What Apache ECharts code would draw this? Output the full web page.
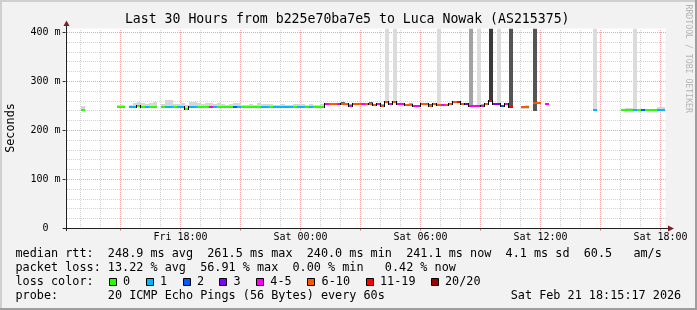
<!DOCTYPE html>
<html><head><meta charset="utf-8">
<script src="https://cdn.jsdelivr.net/npm/echarts@6/dist/echarts.min.js"></script>
<style>html,body{margin:0;padding:0;background:#f2f2f2}#c{width:697px;height:310px}</style>
</head><body><div id="c"></div>
<script>
// ---------------- DATA ----------------
// time in hours since Fri 00:00; graph spans Fri 12:15:17 .. Sat 18:15:17
const rangeStartHour = 12.2547;
const rangeEndHour = 42.2547;
const colStartHour = 12.2;   // first 12-minute consolidation column (Fri 12:12)
const colHours = 0.2;        // 12 minutes per column
const yMaxMs = 408;

const medianMs = [
  null,null,null,null,241,null,null,null,null,null,
  null,null,null,248,248,null,248,248,250,248,
  248,248,248,null,248,248,248,248,248,248,
  244,248,248,248,248,248,248,248,248,248,
  248,248,248,248,248,248,248,248,248,248,
  248,248,248,248,248,248,248,248,248,248,
  248,248,248,248,248,253,253,253,253,255,
  255,250,253,253,253,253,255,252,253,250,
  258,253,259,253,253,251,251,249,249,253,
  253,249,254,252,252,252,253,258,258,254,
  253,249,249,249,250,253,261,253,253,249,
  253,248,null,null,248,248,null,257,257,null,
  253,null,null,null,null,null,null,null,null,null,
  null,null,241,null,null,null,null,null,null,241,
  241,241,241,241,241,241,241,241,241,241,
  null
];
const lossCount = [
  null,null,null,null,0,null,null,null,null,null,
  null,null,null,0,0,null,1,1,0,0,
  1,0,0,null,0,1,1,0,1,1,
  0,1,1,0,0,0,4,1,0,0,
  0,0,2,1,0,0,0,0,0,1,
  1,0,1,1,1,1,1,0,1,1,
  0,1,0,0,0,4,8,8,4,8,
  8,4,8,8,4,8,8,8,4,8,
  8,4,8,4,4,8,8,4,4,8,
  8,8,8,8,4,8,8,8,15,8,
  3,4,4,4,4,8,15,3,3,2,
  4,15,null,null,8,8,null,8,8,null,
  4,null,null,null,null,null,null,null,null,null,
  null,null,1,null,null,null,null,null,null,0,
  0,0,1,0,2,0,0,0,1,1,
  null
];
const smokeHiMs = [
  null,null,null,null,249,null,null,null,null,null,
  null,null,null,252,252,null,252,256,258,256,
  254,256,258,null,254,262,262,254,254,256,
  252,258,258,256,255,256,257,254,256,254,
  252,254,257,257,252,252,254,252,256,254,
  253,254,252,252,254,252,252,253,255,253,
  252,254,252,252,253,256,256,255,255,258,
  257,253,255,255,256,257,258,255,256,253,
  null,257,null,255,256,254,256,252,252,256,
  255,253,256,null,255,255,256,261,261,256,
  255,null,252,null,253,256,null,255,null,252,
  256,null,null,null,250,252,null,null,259,null,
  null,null,null,null,null,null,null,null,null,null,
  null,null,null,null,null,null,null,null,null,244,
  246,246,null,244,243,244,244,244,247,247,
  null
];
const smokeLoMs = [
  null,null,null,null,null,null,null,null,null,null,
  null,null,null,null,null,null,null,null,null,null,
  null,null,null,null,null,null,null,null,null,null,
  null,null,null,null,null,null,null,null,null,null,
  null,null,null,null,null,null,null,null,null,null,
  null,null,null,null,null,null,null,null,null,null,
  null,null,null,null,null,null,null,null,null,null,
  null,null,null,null,null,null,null,null,null,null,
  null,null,null,null,null,null,null,null,null,null,
  null,null,null,null,null,null,null,null,null,null,
  null,null,null,null,null,null,null,null,null,null,
  null,null,null,null,243,243,null,240,null,null,
  null,null,null,null,null,null,null,null,null,null,
  null,null,null,null,null,null,null,null,null,null,
  null,null,null,null,null,null,null,null,null,null,
  null
];
// 0 light, 1 medium, 2 dark smoke around the median
const smokeTone = [
  0,0,0,0,0,0,0,0,0,0, 0,0,0,0,0,0,0,0,0,0,
  0,0,0,0,0,0,0,0,0,0, 0,0,0,0,0,0,0,0,0,0,
  0,0,0,0,0,0,0,0,0,0, 0,0,0,0,0,0,0,0,0,0,
  0,0,0,0,0,1,0,0,0,2, 2,1,0,0,0,1,2,1,0,1,
  0,2,0,0,1,0,1,0,0,2, 1,2,0,0,0,0,2,0,0,2,
  0,0,0,0,1,0,0,0,0,0, 0,0,0,0,0,0,0,0,0,0,
  0,0,0,0,0,0,0,0,0,0, 0,0,0,0,0,0,0,0,0,0,
  0,0,0,0,0,0,0,0,0,0, 0
];
// tall smoke reaching the top of the graph: 0 none, 1 light .. 4 darkest
const spikeTone = [
  0,0,0,0,0,0,0,0,0,0, 0,0,0,0,0,0,0,0,0,0,
  0,0,0,0,0,0,0,0,0,0, 0,0,0,0,0,0,0,0,0,0,
  0,0,0,0,0,0,0,0,0,0, 0,0,0,0,0,0,0,0,0,0,
  0,0,0,0,0,0,0,0,0,0, 0,0,0,0,0,0,0,0,0,0,
  1,0,1,0,0,0,0,0,0,0, 0,0,0,1,0,0,0,0,0,0,
  0,2,0,1,0,0,4,0,1,0, 0,3,0,0,0,0,0,3,0,0,
  0,0,0,0,0,0,0,0,0,0, 0,0,1,0,0,0,0,0,0,0,
  0,0,1,0,0,0,0,0,0,0, 0
];

const xTickHours = [18, 24, 30, 36, 42];
const xTickLabels = ['Fri 18:00', 'Sat 00:00', 'Sat 06:00', 'Sat 12:00', 'Sat 18:00'];
const yTickValues = [0, 100, 200, 300, 400];
const yTickLabels = ['0  ', '100 m', '200 m', '300 m', '400 m'];

const lossBinMax = [0, 1, 2, 3, 5, 10, 19, 20];
const lossBinLabels = ['0', '1', '2', '3', '4-5', '6-10', '11-19', '20/20'];
const lossBinColors = ['#26ff00', '#00b8ff', '#0059ff', '#7e00ff', '#ff00ea', '#ff5500', '#ff0000', '#a10000'];

const titleText = 'Last 30 Hours from b225e70ba7e5 to Luca Nowak (AS215375)';
const statLines = [
  'median rtt:  248.9 ms avg  261.5 ms max  240.0 ms min  241.1 ms now  4.1 ms sd  60.5   am/s',
  'packet loss: 13.22 % avg  56.91 % max  0.00 % min   0.42 % now',
  'loss color:',
  'probe:       20 ICMP Echo Pings (56 Bytes) every 60s'
];
const stampText = 'Sat Feb 21 18:15:17 2026';

// ---------------- STYLE ----------------
const MONO = '"DejaVu Sans Mono", "Liberation Mono", monospace';
const smokeColors = ['#d6d6d6', '#a8a8a8', '#666666'];
const spikeColors = [null, '#dcdcdc', '#a2a2a2', '#555555', '#3a3a3a'];
const gridMinor = '#d2d2d2';
const gridMajor = '#f2a2a2';
const arrowCol = '#801f1f';
const axisCol = '#1f1f1f';
const legendBoxX = [108.7, 145.7, 182.7, 219.3, 256, 307.3, 365.7, 430.7];
const lineMid = [254.2, 267.9, 281.9, 295.6];

function lossColor(n) {
  for (let i = 0; i < lossBinMax.length; i++) if (n <= lossBinMax[i]) return lossBinColors[i];
  return lossBinColors[lossBinColors.length - 1];
}

// ---------------- BUILD ----------------
const cols = [];
for (let j = 0; j < medianMs.length; j++) {
  const m = medianMs[j], sp = spikeTone[j] || 0;
  if (m == null && !sp) continue;
  cols.push([
    colStartHour + j * colHours,
    m == null ? -1 : m,
    lossCount[j] == null ? -1 : lossCount[j],
    smokeHiMs[j] == null ? -1 : smokeHiMs[j],
    smokeLoMs[j] == null ? -1 : smokeLoMs[j],
    smokeTone[j] || 0,
    sp,
    (j > 0 && medianMs[j - 1] != null) ? medianMs[j - 1] : -1
  ]);
}

// grid lines: [value, 0 = vertical (hours) / 1 = horizontal (ms), major?]
const gridItems = [];
for (let h = 13; h <= 42; h++) gridItems.push([h, 0, h % 3 === 0 ? 1 : 0]);
for (let v = 20; v <= 400; v += 20) gridItems.push([v, 1, v % 100 === 0 ? 1 : 0]);
const majorHours = [];
for (let h = 15; h <= 42; h += 3) majorHours.push(h);

function renderGrid(params, api) {
  const v = api.value(0), isY = api.value(1), major = api.value(2);
  const cs = params.coordSys;
  let shape;
  if (!isY) {
    const x = Math.floor(api.coord([v, 0])[0]) + 0.5;
    shape = { x1: x, y1: Math.round(cs.y + cs.height), x2: x, y2: Math.round(cs.y) };
  } else {
    const y = Math.floor(api.coord([rangeStartHour, v])[1]) + 0.5;
    shape = { x1: Math.round(cs.x) + 1, y1: y, x2: Math.round(cs.x + cs.width), y2: y };
  }
  return { type: 'line', shape: shape, style: { stroke: major ? gridMajor : gridMinor, lineWidth: 1, lineDash: [1, 1] } };
}

function renderSmoke(params, api) {
  const t = api.value(0), med = api.value(1), hi = api.value(3), lo = api.value(4), tone = api.value(5), sp = api.value(6);
  const xL = Math.round(api.coord([t, 0])[0]);
  const xR = Math.round(api.coord([t + colHours, 0])[0]);
  const base = lo >= 0 ? lo : med - 1.5;
  const yB = Math.round(api.coord([t, base])[1]);
  const kids = [];
  if (sp > 0) {
    const yT = api.coord([t, yMaxMs])[1];
    kids.push({ type: 'rect', shape: { x: xL, y: yT, width: xR - xL, height: yB - yT }, style: { fill: spikeColors[sp] } });
  }
  if (hi >= 0) {
    const yT = Math.round(api.coord([t, hi])[1]);
    kids.push({ type: 'rect', shape: { x: xL, y: yT, width: xR - xL, height: yB - yT }, style: { fill: smokeColors[tone] } });
  }
  return { type: 'group', children: kids };
}

function renderMedian(params, api) {
  const t = api.value(0), med = api.value(1), loss = api.value(2), prev = api.value(7);
  if (med < 0) return { type: 'group', children: [] };
  const xL = Math.round(api.coord([t, 0])[0]);
  const xR = Math.round(api.coord([t + colHours, 0])[0]);
  const y = Math.round(api.coord([t, med])[1]);
  const kids = [];
  if (prev >= 0 && prev !== med) {
    const yp = Math.round(api.coord([t, prev])[1]);
    kids.push({ type: 'rect', shape: { x: xL - 1, y: Math.min(y, yp) - 1, width: 1, height: Math.abs(y - yp) + 2 }, style: { fill: '#000' } });
  }
  kids.push({ type: 'rect', shape: { x: xL, y: y - 1, width: xR - xL, height: 2 }, style: { fill: lossColor(loss) } });
  return { type: 'group', children: kids };
}

const graphics = [
  // 3D frame
  { type: 'rect', shape: { x: 0, y: 0, width: 697, height: 2 }, style: { fill: '#cfcfcf' }, silent: true },
  { type: 'rect', shape: { x: 0, y: 0, width: 2, height: 310 }, style: { fill: '#cfcfcf' }, silent: true },
  { type: 'rect', shape: { x: 0, y: 308, width: 697, height: 2 }, style: { fill: '#9e9e9e' }, silent: true },
  { type: 'rect', shape: { x: 695, y: 0, width: 2, height: 310 }, style: { fill: '#9e9e9e' }, silent: true },
  // axes lines & arrows
  { type: 'line', shape: { x1: 66.5, y1: 231, x2: 66.5, y2: 24 }, style: { stroke: axisCol, lineWidth: 1 }, silent: true, z: 50 },
  { type: 'line', shape: { x1: 63, y1: 228.5, x2: 669, y2: 228.5 }, style: { stroke: axisCol, lineWidth: 1 }, silent: true, z: 50 },
  { type: 'polygon', shape: { points: [[63.5, 26], [69.5, 26], [66.5, 20.5]] }, style: { fill: arrowCol }, silent: true, z: 51 },
  { type: 'polygon', shape: { points: [[668, 225.5], [668, 231.5], [674, 228.5]] }, style: { fill: arrowCol }, silent: true, z: 51 },
  // title
  { type: 'text', x: 347.2, y: 19.4, style: { text: titleText, font: '13.2px ' + MONO, fill: '#000', align: 'center', verticalAlign: 'middle' }, silent: true },
  // y axis name
  { type: 'text', x: 10.5, y: 128, rotation: Math.PI / 2, style: { text: 'Seconds', font: '11.8px ' + MONO, fill: '#000', align: 'center', verticalAlign: 'middle' }, silent: true },
  // watermark
  { type: 'text', x: 687.8, y: 4.5, rotation: -Math.PI / 2, style: { text: 'RRDTOOL / TOBI OETIKER', font: '8.2px ' + MONO, fill: '#b4b4b4', align: 'left', verticalAlign: 'middle' }, silent: true },
  // stamp
  { type: 'text', x: 681.2, y: lineMid[3], style: { text: stampText, font: '11.8px ' + MONO, fill: '#000', align: 'right', verticalAlign: 'middle' }, silent: true }
];
statLines.forEach((s, i) => {
  graphics.push({ type: 'text', x: 15.5, y: lineMid[i], style: { text: s, font: '11.8px ' + MONO, fill: '#000', align: 'left', verticalAlign: 'middle' }, silent: true });
});
lossBinLabels.forEach((lab, i) => {
  const bx = Math.round(legendBoxX[i]) + 0.5;
  graphics.push({ type: 'rect', shape: { x: bx, y: 278.5, width: 7, height: 7 }, style: { fill: lossBinColors[i], stroke: '#000', lineWidth: 1 }, silent: true });
  graphics.push({ type: 'text', x: legendBoxX[i] + 14.3, y: lineMid[2], style: { text: lab, font: '11.8px ' + MONO, fill: '#000', align: 'left', verticalAlign: 'middle' }, silent: true });
});

const option = {
  backgroundColor: '#f2f2f2',
  animation: false,
  grid: { show: true, backgroundColor: '#ffffff', borderWidth: 0, left: 65.6, top: 28.5, width: 600, height: 200 },
  xAxis: {
    type: 'value', min: rangeStartHour, max: rangeEndHour,
    splitLine: { show: false }, axisLine: { show: false },
    axisTick: { show: true, customValues: majorHours, length: 2, lineStyle: { color: '#e07070' } },
    axisLabel: {
      customValues: xTickHours, margin: 9, verticalAlign: 'middle',
      fontFamily: MONO, fontSize: 10, color: '#000',
      formatter: v => xTickLabels[xTickHours.indexOf(Math.round(v))] || ''
    }
  },
  yAxis: {
    type: 'value', min: 0, max: yMaxMs,
    splitLine: { show: false }, axisLine: { show: false },
    axisTick: { show: true, customValues: yTickValues, length: 3, lineStyle: { color: '#333' } },
    axisLabel: {
      customValues: yTickValues, margin: 5,
      fontFamily: MONO, fontSize: 10, color: '#000',
      formatter: v => yTickLabels[yTickValues.indexOf(Math.round(v))] || ''
    }
  },
  series: [
    { type: 'custom', name: 'grid', renderItem: renderGrid, data: gridItems, z: 1, silent: true },
    { type: 'custom', name: 'smoke', renderItem: renderSmoke, data: cols, encode: { x: 0, y: 1 }, z: 2, silent: true, clip: true },
    { type: 'custom', name: 'median', renderItem: renderMedian, data: cols, encode: { x: 0, y: 1 }, z: 3, silent: true, clip: true }
  ],
  graphic: { elements: graphics }
};

const chart = echarts.init(document.getElementById('c'), null, { renderer: 'canvas', width: 697, height: 310 });
chart.setOption(option);
</script>
</body></html>
